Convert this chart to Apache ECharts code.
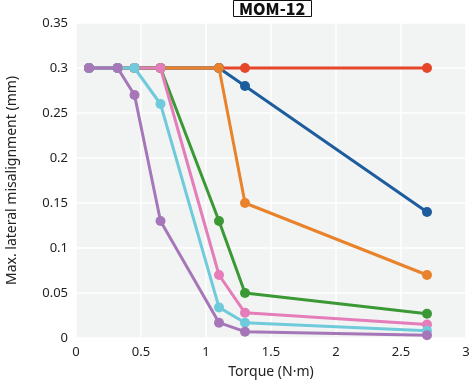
<!DOCTYPE html>
<html><head><meta charset="utf-8">
<script src="https://cdn.jsdelivr.net/npm/echarts@6/dist/echarts.min.js"></script>
<style>html,body{margin:0;padding:0;background:#fff}#c{width:471px;height:381px}</style>
</head><body><div id="c"></div>
<script>
const torque = [0.1, 0.32, 0.45, 0.65, 1.1, 1.3, 2.7];
const seriesNames = ['S1', 'S2', 'S3', 'S4', 'S5', 'S6', 'S7'];
const red    = [0.3, 0.3, 0.3, 0.3, 0.3, 0.3, 0.3];
const blue   = [0.3, 0.3, 0.3, 0.3, 0.3, 0.28, 0.14];
const orange = [0.3, 0.3, 0.3, 0.3, 0.3, 0.15, 0.07];
const green  = [0.3, 0.3, 0.3, 0.3, 0.13, 0.05, 0.027];
const pink   = [0.3, 0.3, 0.3, 0.3, 0.07, 0.028, 0.015];
const cyan   = [0.3, 0.3, 0.3, 0.26, 0.034, 0.017, 0.008];
const purple = [0.3, 0.3, 0.27, 0.13, 0.017, 0.007, 0.003];
const colors = ['#e5472d', '#1d5d9e', '#e8832c', '#3a9935', '#e47db9', '#6fcadb', '#a677b8'];
const allData = [red, blue, orange, green, pink, cyan, purple];

const font = "'Noto Sans', 'Noto Sans CJK JP', sans-serif";
const titleFont = "'Noto Sans CJK JP', 'Noto Sans', sans-serif";
const chart = echarts.init(document.getElementById('c'));
chart.setOption({
  animation: false,
  title: {
    text: 'MOM-12', left: 233, top: 0,
    borderColor: '#111', borderWidth: 1, padding: [0, 6, 0, 6],
    textStyle: { fontFamily: titleFont, fontWeight: 900, fontSize: 16, color: '#111', lineHeight: 17 }
  },
  grid: { left: 76, right: 5, top: 23, bottom: 43, show: true, backgroundColor: '#f2f4f3', borderWidth: 0, outerBoundsMode: 'none', containLabel: false },
  xAxis: {
    type: 'value', min: 0, max: 3, interval: 0.5,
    name: 'Torque (N·m)', nameLocation: 'middle', nameGap: 27,
    nameTextStyle: { fontFamily: font, fontSize: 14, color: '#222' },
    axisLine: { show: false }, axisTick: { show: false },
    axisLabel: { fontFamily: font, fontSize: 13, color: '#222', margin: 8 },
    splitLine: { lineStyle: { color: '#ffffff', width: 1.5 } }
  },
  yAxis: {
    type: 'value', min: 0, max: 0.35, interval: 0.05,
    name: 'Max. lateral misalignment (mm)', nameLocation: 'middle', nameGap: 57,
    nameTextStyle: { fontFamily: font, fontSize: 14, color: '#222' },
    axisLine: { show: false }, axisTick: { show: false },
    axisLabel: { fontFamily: font, fontSize: 13, color: '#222', margin: 8 },
    splitLine: { lineStyle: { color: '#ffffff', width: 1.5 } }
  },
  series: allData.map((d, i) => ({
    name: seriesNames[i], type: 'line',
    data: torque.map((x, j) => [x, d[j]]),
    symbol: 'circle', symbolSize: 10,
    lineStyle: { color: colors[i], width: 3 },
    itemStyle: { color: colors[i] },
    z: 2 + i
  }))
});
</script></body></html>
